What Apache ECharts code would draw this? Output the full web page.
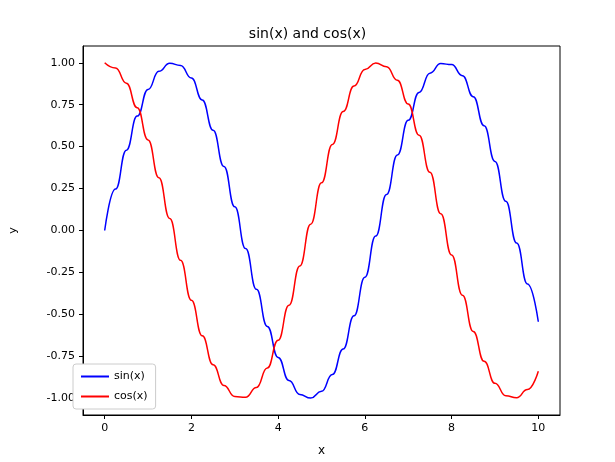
<!DOCTYPE html>
<html><head><meta charset="utf-8">
<script src="https://cdn.jsdelivr.net/npm/echarts@6/dist/echarts.min.js"></script>
<style>html,body{margin:0;padding:0;background:#fff}#c{width:615px;height:462px}</style>
</head><body><div id="c"></div>
<script>
const xs=[0,0.25,0.5,0.75,1,1.25,1.5,1.75,2,2.25,2.5,2.75,3,3.25,3.5,3.75,4,4.25,4.5,4.75,5,5.25,5.5,5.75,6,6.25,6.5,6.75,7,7.25,7.5,7.75,8,8.25,8.5,8.75,9,9.25,9.5,9.75,10];
const sinVals=[0,.247,.479,.682,.841,.949,.997,.984,.909,.778,.598,.382,.141,-.108,-.351,-.572,-.757,-.895,-.978,-.999,-.959,-.859,-.706,-.508,-.279,-.033,.215,.450,.657,.823,.938,.995,.989,.923,.798,.624,.412,.174,-.075,-.319,-.544];
const cosVals=[1,.969,.878,.732,.540,.315,.071,-.178,-.416,-.628,-.801,-.924,-.990,-.994,-.936,-.820,-.654,-.446,-.211,.038,.284,.513,.709,.861,.960,.999,.977,.896,.754,.568,.347,.100,-.146,-.386,-.602,-.780,-.911,-.985,-.997,-.948,-.839];
const xTicks=[0,2,4,6,8,10];
const yTicks=[-1,-0.75,-0.5,-0.25,0,0.25,0.5,0.75,1];
const F='DejaVu Sans';
const chart=echarts.init(document.getElementById('c'));
chart.setOption({
 animation:false,
 textStyle:{fontFamily:F},
 title:{text:'sin(x) and cos(x)',left:'center',top:22,textStyle:{fontFamily:F,fontSize:14,fontWeight:'normal',color:'#000'}},
 grid:{left:67,right:55,top:46,bottom:47,show:true,borderColor:'#000',borderWidth:1},
 legend:{left:73,bottom:53,orient:'vertical',itemWidth:28,itemHeight:2,itemGap:9,padding:[7,8],
   borderColor:'#ccc',borderWidth:1,borderRadius:3,backgroundColor:'#fff',
   textStyle:{fontFamily:F,fontSize:11,color:'#000'},icon:'rect',
   data:['sin(x)','cos(x)']},
 xAxis:{type:'value',min:-0.5,max:10.5,name:'x',nameLocation:'middle',nameGap:30,
   nameTextStyle:{fontFamily:F,fontSize:12,color:'#000'},
   axisLine:{show:true,onZero:false,lineStyle:{color:'#000'}},splitLine:{show:false},
   axisTick:{show:true,customValues:xTicks,length:4,lineStyle:{color:'#000'}},
   axisLabel:{customValues:xTicks,color:'#000',fontSize:11,fontFamily:F,formatter:v=>String(v)}},
 yAxis:{type:'value',min:-1.1,max:1.1,name:'y',nameLocation:'middle',nameGap:64,
   nameTextStyle:{fontFamily:F,fontSize:11,color:'#000'},
   axisLine:{show:true,onZero:false,lineStyle:{color:'#000'}},splitLine:{show:false},
   axisTick:{show:true,customValues:yTicks,length:4,lineStyle:{color:'#000'}},
   axisLabel:{customValues:yTicks,color:'#000',fontSize:11,fontFamily:F,formatter:v=>v.toFixed(2)}},
 series:[
  {name:'sin(x)',type:'line',smooth:0.5,smoothMonotone:'x',symbol:'none',data:xs.map((x,i)=>[x,sinVals[i]]),lineStyle:{color:'#0000ff',width:1.5},itemStyle:{color:'#0000ff'}},
  {name:'cos(x)',type:'line',smooth:0.5,smoothMonotone:'x',symbol:'none',data:xs.map((x,i)=>[x,cosVals[i]]),lineStyle:{color:'#ff0000',width:1.5},itemStyle:{color:'#ff0000'}}
 ]
});
</script></body></html>
